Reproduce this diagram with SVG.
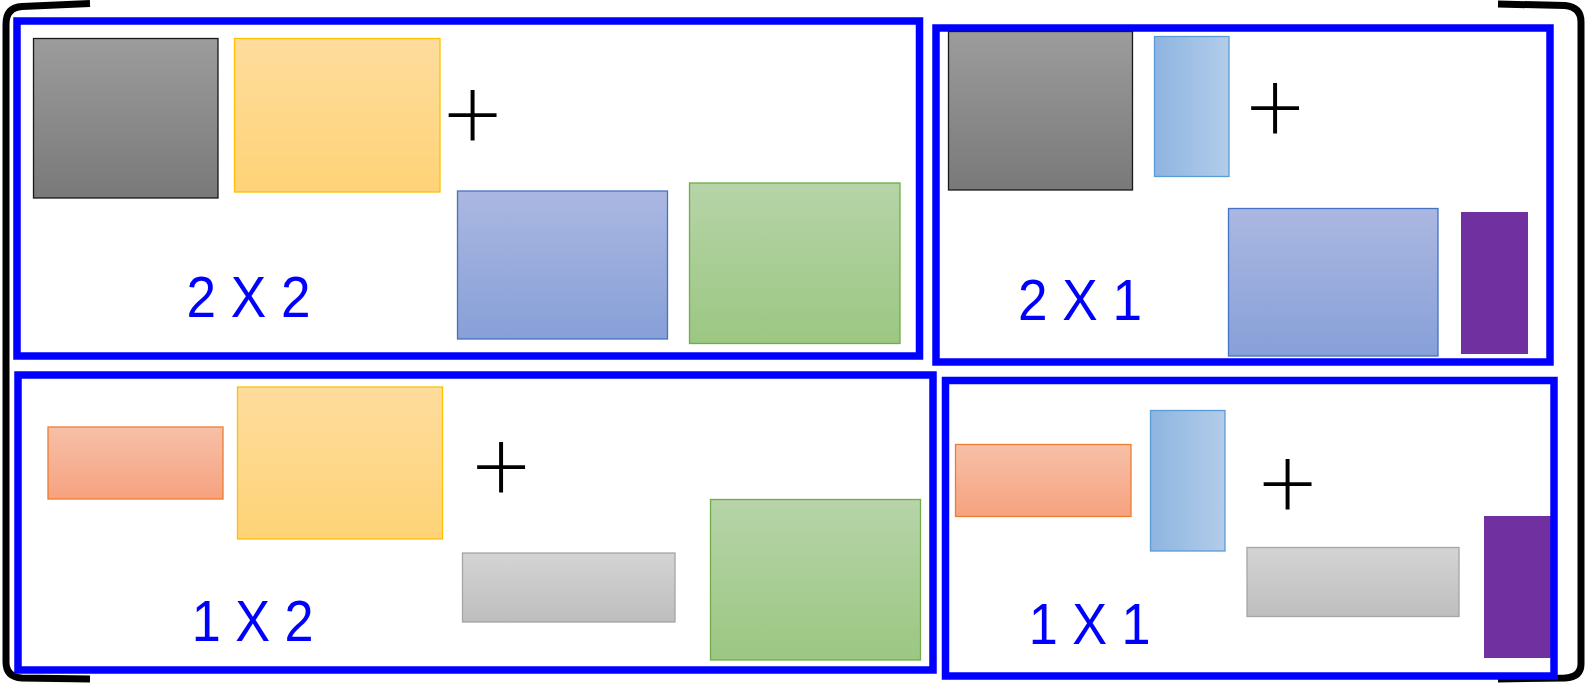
<svg xmlns="http://www.w3.org/2000/svg" width="1585" height="683" viewBox="0 0 1585 683">
<defs>
<linearGradient id="gDark" x1="0" y1="0" x2="0" y2="1"><stop offset="0" stop-color="#9c9c9c"/><stop offset="1" stop-color="#797979"/></linearGradient>
<linearGradient id="gYellow" x1="0" y1="0" x2="0" y2="1"><stop offset="0" stop-color="#ffdc9d"/><stop offset="1" stop-color="#fed377"/></linearGradient>
<linearGradient id="gBlue" x1="0" y1="0" x2="0" y2="1"><stop offset="0" stop-color="#abb7e1"/><stop offset="1" stop-color="#87a0d8"/></linearGradient>
<linearGradient id="gGreen" x1="0" y1="0" x2="0" y2="1"><stop offset="0" stop-color="#b6d4a8"/><stop offset="1" stop-color="#9cc782"/></linearGradient>
<linearGradient id="gLBlue" x1="0" y1="0" x2="1" y2="0"><stop offset="0" stop-color="#8db5e1"/><stop offset="1" stop-color="#b3cce9"/></linearGradient>
<linearGradient id="gOrange" x1="0" y1="0" x2="0" y2="1"><stop offset="0" stop-color="#f7c0a8"/><stop offset="1" stop-color="#f6a27f"/></linearGradient>
<linearGradient id="gLGray" x1="0" y1="0" x2="0" y2="1"><stop offset="0" stop-color="#d4d4d4"/><stop offset="1" stop-color="#bebebe"/></linearGradient>
</defs>
<style>
.frame{fill:none;stroke:#0000ff;stroke-width:7.5}
.brk{fill:none;stroke:#000;stroke-width:7}
.dark{fill:url(#gDark);stroke:#1a1a1a;stroke-width:1.3}
.yel{fill:url(#gYellow);stroke:#ffc000;stroke-width:1.3}
.blu{fill:url(#gBlue);stroke:#4472c4;stroke-width:1.3}
.grn{fill:url(#gGreen);stroke:#70ad47;stroke-width:1.3}
.lbl{fill:url(#gLBlue);stroke:#5b9bd5;stroke-width:1.3}
.org{fill:url(#gOrange);stroke:#ed7d31;stroke-width:1.3}
.lgr{fill:url(#gLGray);stroke:#a5a5a5;stroke-width:1.3}
.pur{fill:#7030a0}
.lab{font-family:"Liberation Sans",Arial,sans-serif;font-size:58px;fill:#0000ff;text-anchor:middle}
.plus{font-family:Lato,"Liberation Sans",sans-serif;font-weight:300;font-size:102px;fill:#000;text-anchor:middle}
</style>
<g id="brackets">
<path class="brk" d="M90,3.5 L22,6.5 Q6,7.5 6,24 L6,662 Q6,677 22,678 L90,679"/>
<path class="brk" d="M1498,4 L1565,5.5 Q1581,7 1581,22 L1581,664 Q1581,677 1565,678 L1498,679"/>
</g>
<g id="panel-2x2">
<rect class="dark" x="33.5" y="38.5" width="184.5" height="159.5"/>
<rect class="yel" x="234.5" y="38.5" width="205.5" height="153.5"/>
<text class="plus" x="472.5" y="149.5">+</text>
<rect class="blu" x="457.5" y="191" width="210" height="148"/>
<rect class="grn" x="689.5" y="183" width="210.5" height="160.5"/>
<text class="lab" x="248.5" y="317" textLength="124" lengthAdjust="spacingAndGlyphs">2 X 2</text>
<rect class="frame" x="17" y="21" width="902.5" height="335"/>
</g>
<g id="panel-2x1">
<rect class="lbl" x="1154.5" y="36.5" width="74.5" height="140"/>
<text class="plus" x="1275" y="143">+</text>
<rect class="blu" x="1228.5" y="208.5" width="209.5" height="147.5"/>
<rect class="pur" x="1461" y="212" width="67" height="142"/>
<text class="lab" x="1080" y="320" textLength="124" lengthAdjust="spacingAndGlyphs">2 X 1</text>
<rect class="frame" x="936" y="28" width="614" height="334"/>
<rect class="dark" x="948.5" y="31.5" width="184" height="158.5"/>
</g>
<g id="panel-1x2">
<rect class="org" x="48" y="427" width="175" height="72"/>
<rect class="yel" x="237.5" y="387" width="205" height="152"/>
<text class="plus" x="501" y="501.5">+</text>
<rect class="lgr" x="462.5" y="553" width="212.5" height="69"/>
<rect class="grn" x="710.5" y="499.5" width="210" height="160.5"/>
<text class="lab" x="252.7" y="641" textLength="122" lengthAdjust="spacingAndGlyphs">1 X 2</text>
<rect class="frame" x="18" y="375" width="915" height="295"/>
</g>
<g id="panel-1x1">
<rect class="org" x="955.5" y="444.5" width="175.5" height="72"/>
<rect class="lbl" x="1150.5" y="410.5" width="74.5" height="140.5"/>
<text class="plus" x="1287.5" y="519">+</text>
<rect class="lgr" x="1247" y="547.5" width="212" height="69"/>
<rect class="pur" x="1484" y="516" width="68" height="142"/>
<text class="lab" x="1089.7" y="644" textLength="122" lengthAdjust="spacingAndGlyphs">1 X 1</text>
<rect class="frame" x="945.5" y="380.5" width="608.5" height="295.5"/>
</g>
</svg>
